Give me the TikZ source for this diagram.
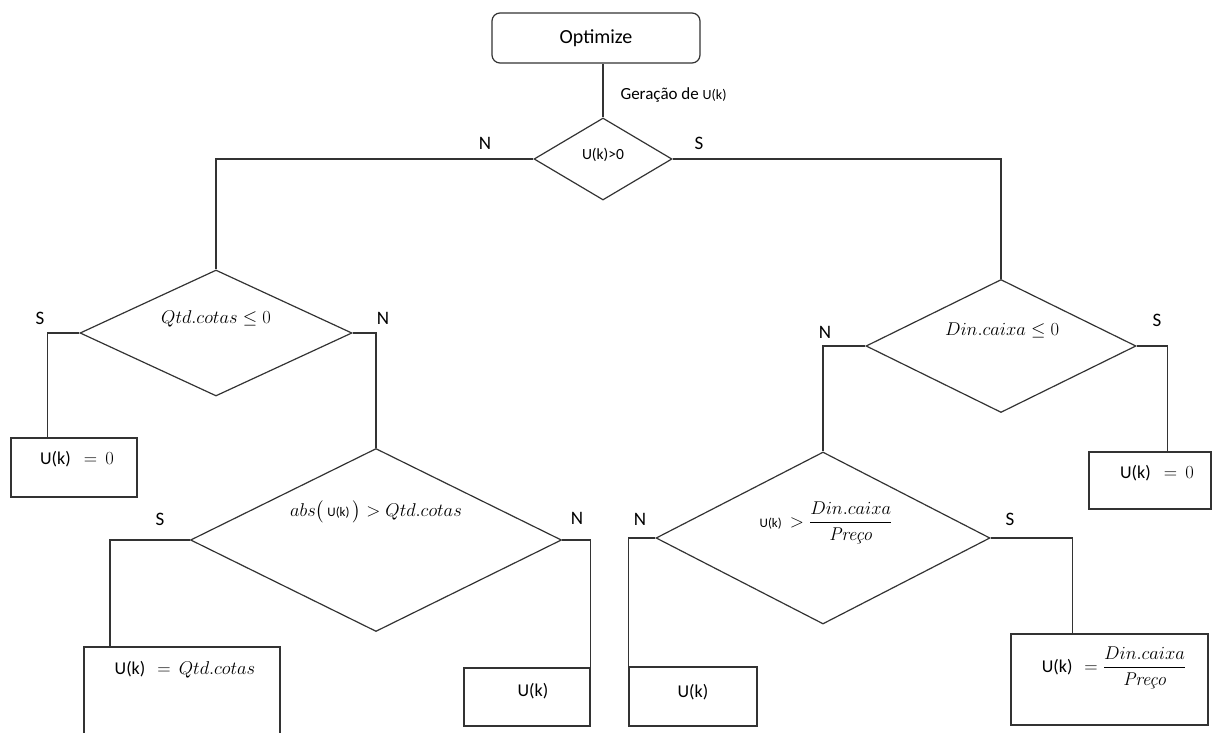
\documentclass[tikz,border=0pt]{standalone}
\usepackage{fix-cm}
\usepackage{amsmath,amssymb}
\usepackage{fontspec}
\setmainfont{Carlito}
\newfontfamily\lmr{Latin Modern Roman}
\usepackage{tikz}
\usetikzlibrary{positioning,shapes.geometric}
\usepackage{xcolor}

\newcommand{\uk}[1][13]{{\fontsize{#1}{#1}\selectfont U(k)}}
\newcommand{\preco}{\text{\lmr\itshape Preço}}

\begin{document}
\begin{tikzpicture}[x=1pt,y=-1pt,
  conn/.style={draw=black!80,line width=1.2pt},
  cond/.style={draw=black!80,diamond,inner sep=0pt,line width=1.2pt},
  res/.style={draw=black!80,rectangle,inner sep=0pt,line width=1.2pt},
  lbl/.style={font=\fontsize{19}{22}\selectfont},
  txt/.style={font=\fontsize{18.5}{22}\selectfont}]
\useasboundingbox (0,0) rectangle (1212,733);
\clip (0,0) rectangle (1212,733);

% start and first test
\node[draw=black!80,rounded corners=8pt,line width=1.2pt,minimum width=208pt,minimum height=50pt,font=\fontsize{20}{24}\selectfont] (opt) at (596,38) {Optimize};
\node[cond,minimum width=138pt,minimum height=82pt] (d1) at (603,159) {};
\node[font=\fontsize{15.5}{18}\selectfont] (t1) at (603,155) {U(k)>0};
\node[anchor=west,font=\fontsize{17}{20}\selectfont] (gen) at (617,95) {Geração de \uk[14]};
\node[lbl] (n1) at (485,143) {N};
\node[lbl] (s1) at (699,143) {S};

% left branch
\node[cond,minimum width=272pt,minimum height=126pt] (d2) at (216,333) {};
\node[txt] (t2) at (216,319) {$Qtd.cotas \leq 0$};
\node[lbl] (s2) at (40,318) {S};
\node[lbl] (n2) at (383,318) {N};
\node[res,minimum width=126pt,minimum height=59pt] (b1) at (74,467.5) {};
\node[txt] (r1) at (77,459) {\uk[18]\hspace{13pt}$=\,0$};

\node[cond,minimum width=371pt,minimum height=183pt] (d4) at (376,540) {};
\node[txt] (t4) at (376,512) {$abs\bigl(\,\text{\uk}\,\bigr) > Qtd.cotas$};
\node[lbl] (s4) at (160,519) {S};
\node[lbl] (n4) at (577,518) {N};
\node[res,minimum width=196pt,minimum height=120pt] (b3) at (182,707) {};
\node[txt] (r3) at (185,670) {\uk[18]\hspace{12pt}$=\,Qtd.cotas$};
\node[res,minimum width=126pt,minimum height=58pt] (b4) at (527,697) {};
\node[txt] (r4) at (533,691) {\uk[18]};

% right branch
\node[cond,minimum width=270pt,minimum height=133pt] (d3) at (1001,346) {};
\node[txt] (t3) at (1002,330) {$Din.caixa \leq 0$};
\node[lbl] (n3) at (825,332) {N};
\node[lbl] (s3) at (1157,320) {S};
\node[res,minimum width=122pt,minimum height=57pt] (b2) at (1150,480.5) {};
\node[txt] (r2) at (1157,473) {\uk[18]\hspace{13pt}$=\,0$};

\node[cond,minimum width=334pt,minimum height=172pt] (d5) at (823,538) {};
\node[txt] (t5) at (826,523) {\uk\hspace{8pt}$> \dfrac{Din.caixa}{\preco}$};
\node[lbl] (n5) at (640,519) {N};
\node[lbl] (s5) at (1010,519) {S};
\node[res,minimum width=128pt,minimum height=59pt] (b5) at (693,696.5) {};
\node[txt] (r5) at (693,692) {\uk[18]};
\node[res,minimum width=197pt,minimum height=91pt] (b6) at (1109.5,679.5) {};
\node[txt] (r6) at (1114,668) {\uk[18]\hspace{12pt}$=\dfrac{Din.caixa}{\preco}$};

% connectors
\draw[conn] (d1.north) -- (d1.north |- opt.south);
\draw[conn] (d1.west) -| (d2.north);
\draw[conn] (d1.east) -| (d3.north);
\draw[conn] (d2.west) -- ++(-32,0) coordinate (j1) -- (j1 |- b1.north);
\draw[conn] (d2.east) -| (d4.north);
\draw[conn] (d4.west) -- ++(-80,0) coordinate (j2) -- (j2 |- b3.north);
\draw[conn] (d4.east) -| (b4.north east);
\draw[conn] (d3.west) -| (d5.north);
\draw[conn] (d3.east) -- ++(31,0) coordinate (j3) -- (j3 |- b2.north);
\draw[conn] (d5.west) -| (b5.north west);
\draw[conn] (d5.east) -- ++(82,0) coordinate (j4) -- (j4 |- b6.north);
\end{tikzpicture}
\end{document}
